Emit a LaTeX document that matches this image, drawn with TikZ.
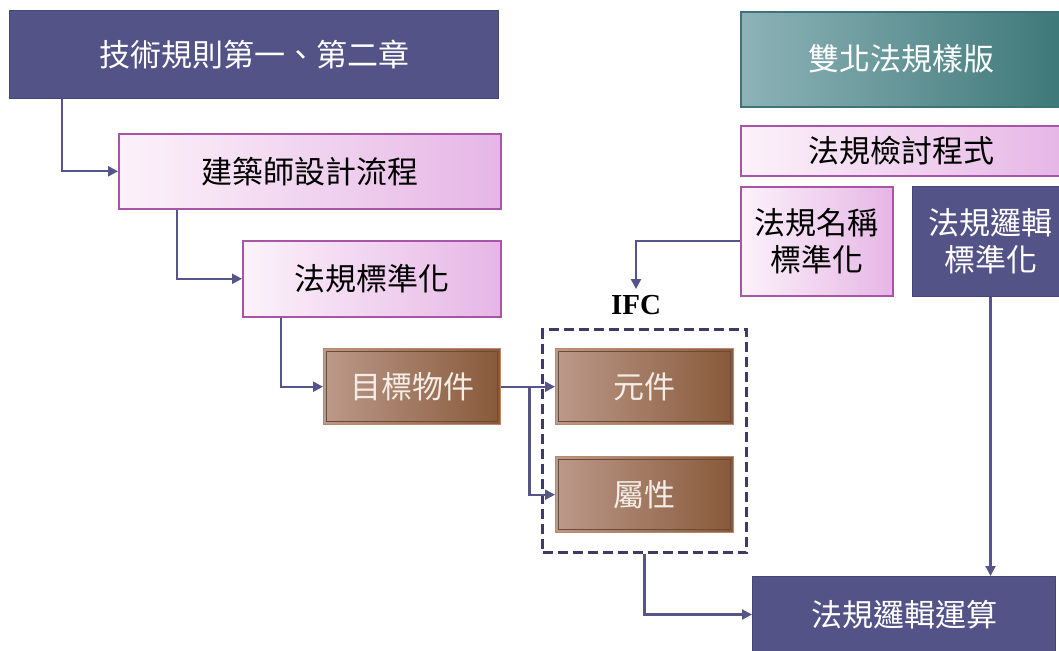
\documentclass[tikz,border=0pt]{standalone}
\usepackage{fontspec}
\newfontfamily\cjk{Noto Sans CJK TC}
\newfontfamily\ifcfont{Liberation Serif}
\usetikzlibrary{arrows.meta,calc}
\definecolor{navyc}{HTML}{535388}
\definecolor{navyd}{HTML}{45457A}
\definecolor{pinkl}{HTML}{FCF2FA}
\definecolor{pinkr}{HTML}{E6B6E6}
\definecolor{pinkd}{HTML}{A855A8}
\definecolor{brl}{HTML}{BC998A}
\definecolor{brr}{HTML}{875939}
\definecolor{brd}{HTML}{B8896A}
\definecolor{brin}{HTML}{6E4A36}
\definecolor{brtext}{HTML}{F4ECE6}
\definecolor{tealtl}{HTML}{8DB3B8}
\definecolor{tealr}{HTML}{3E7878}
\definecolor{teald}{HTML}{3F7474}
\definecolor{linec}{HTML}{55558A}
\definecolor{dashc}{HTML}{3C3C66}
\tikzset{
  box/.style={rectangle, anchor=north west, inner sep=0pt, align=center,
    font=\cjk\fontsize{31}{37}\selectfont},
  navybox/.style={box, fill=navyc, draw=navyd, line width=1pt, text=white},
  pinkbox/.style={box, left color=pinkl, right color=pinkr, draw=pinkd, line width=1.6pt, text=black},
  tealbox/.style={box, left color=tealtl, right color=tealr, draw=teald, line width=1.6pt, text=white},
  brownbox/.style={box, left color=brl, right color=brr, draw=brd, line width=1.4pt, text=brtext,
    path picture={\draw[brin, line width=1pt]
      ([shift={(3pt,-3pt)}]path picture bounding box.north west) rectangle
      ([shift={(-3pt,3pt)}]path picture bounding box.south east);}},
  conn/.style={draw=linec, line width=2.2pt, -{Triangle[length=10pt,width=10pt]}},
}
\begin{document}
\begin{tikzpicture}[x=1pt,y=-1pt]
\useasboundingbox (0,0) rectangle (1059,650);
\clip (0,0) rectangle (1059,650);
% left column
\node[navybox, minimum width=489pt, minimum height=88pt] (rules) at (9,10) {技術規則第一、第二章};
\node[pinkbox, minimum width=382pt, minimum height=75pt] (design) at (118,133) {建築師設計流程};
\node[pinkbox, minimum width=258pt, minimum height=76pt] (std) at (242,240) {法規標準化};
\node[brownbox, minimum width=177pt, minimum height=76pt] (obj) at (323,348) {目標物件};
% IFC group
\node[draw=dashc, dash pattern=on 10pt off 5pt, line width=3pt, anchor=north west,
      minimum width=204pt, minimum height=223pt, inner sep=0pt] (ifcbox) at (541,328) {};
\node[font=\ifcfont\bfseries\fontsize{29}{31}\selectfont, inner sep=0pt] (ifc) at (636,305) {IFC};
\node[brownbox, minimum width=178pt, minimum height=76pt] (elem) at (555,348) {元件};
\node[brownbox, minimum width=178pt, minimum height=76pt] (attr) at (555,456) {屬性};
% right column
\node[tealbox, minimum width=322pt, minimum height=95pt] (tpl) at (740,11) {雙北法規樣版};
\node[pinkbox, minimum width=322pt, minimum height=50pt] (prog) at (740,125) {法規檢討程式};
\node[pinkbox, minimum width=152pt, minimum height=109pt] (name) at (740,186) {法規名稱\\標準化};
\node[navybox, minimum width=156pt, minimum height=110pt] (logic) at (912,186) {法規邏輯\\標準化};
\node[navybox, minimum width=303pt, minimum height=76pt] (calc) at (752,576) {法規邏輯運算};
% connectors
\draw[conn] ([xshift=53pt]rules.south west) |- (design.west);
\draw[conn] ([xshift=59pt]design.south west) |- (std.west);
\draw[conn] ([xshift=39pt]std.south west) |- (obj.west);
\draw[conn] (obj.east) -- (elem.west);
\draw[conn] ([xshift=28pt]obj.east) |- (attr.west);
\draw[conn] (name.west) -| ([yshift=6pt]ifc.north);
\draw[conn] (logic.south) -- (logic.south |- calc.north);
\draw[conn] (ifcbox.south) |- (calc.west);
\end{tikzpicture}
\end{document}
